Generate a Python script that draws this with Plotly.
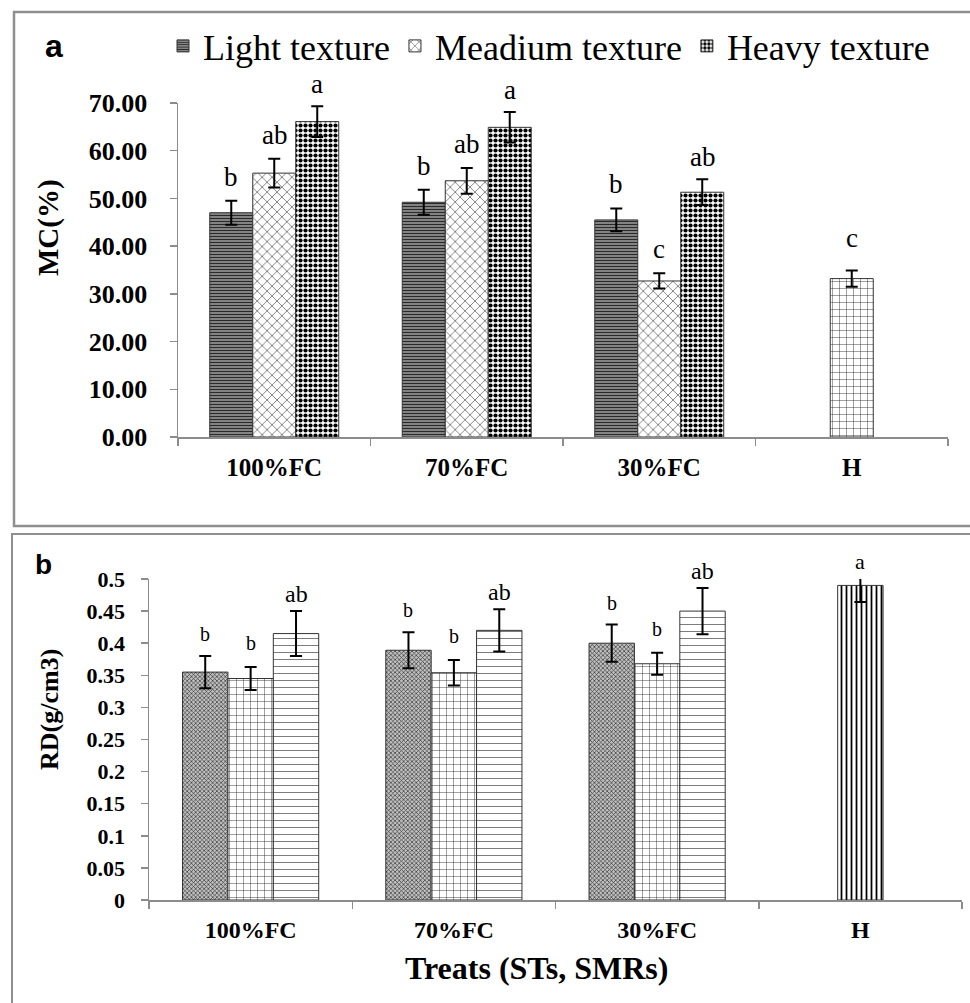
import plotly.graph_objects as go

W, H = 970, 1003

# ---------------- data ----------------
treats = ["100%FC", "70%FC", "30%FC"]
categories = ["100%FC", "70%FC", "30%FC", "H"]

# Panel a : MC (%)
mc_light = [47.0, 49.2, 45.5]
mc_light_err = [2.5, 2.6, 2.4]
mc_medium = [55.3, 53.7, 32.7]
mc_medium_err = [3.0, 2.7, 1.6]
mc_heavy = [66.1, 64.9, 51.3]
mc_heavy_err = [3.2, 3.2, 2.7]
mc_h = [33.2]
mc_h_err = [1.7]
mc_light_letters = ["b", "b", "b"]
mc_medium_letters = ["ab", "ab", "c"]
mc_heavy_letters = ["a", "a", "ab"]
mc_h_letters = ["c"]

# Panel b : RD (g/cm3)
rd_s1 = [0.355, 0.389, 0.400]
rd_s1_err = [0.025, 0.028, 0.029]
rd_s2 = [0.345, 0.354, 0.368]
rd_s2_err = [0.018, 0.020, 0.017]
rd_s3 = [0.415, 0.420, 0.450]
rd_s3_err = [0.035, 0.033, 0.036]
rd_h = [0.49]
rd_h_err = [0.026]
rd_s1_letters = ["b", "b", "b"]
rd_s2_letters = ["b", "b", "b"]
rd_s3_letters = ["ab", "ab", "ab"]
rd_h_letters = ["a"]

series_names = ["Light texture", "Meadium texture", "Heavy texture"]

# ---------------- styling helpers ----------------
SERIF = "Liberation Serif, Times New Roman, serif"
SANS = "Liberation Sans, Arial, sans-serif"
AXC = "#8c8c8c"
BARGAP = 0.33
MC_RANGE = [0, 70]
RD_RANGE = [0, 0.5]


def px_x(p):
    return p / W


def px_y(p):
    return 1 - p / H


def err(arr):
    return dict(type="data", array=arr, color="black", thickness=2, width=6, visible=True)


def pat(shape, fg, bg, size, sol):
    return dict(shape=shape, fgcolor=fg, bgcolor=bg, size=size, solidity=sol, fillmode="replace")


fig = go.Figure()

# Panel a traces
pa_pats = [
    pat("-", "#2a2a2a", "#a0a0a0", 3, 0.5),
    pat("x", "#222222", "white", 7, 0.15),
    pat(".", "black", "white", 5, 0.55),
]
pa_vals = [mc_light, mc_medium, mc_heavy]
pa_errs = [mc_light_err, mc_medium_err, mc_heavy_err]
for i in range(3):
    fig.add_trace(go.Bar(
        x=treats, y=pa_vals[i], name=series_names[i],
        error_y=err(pa_errs[i]), offsetgroup=str(i),
        marker=dict(color="white", pattern=pa_pats[i], line=dict(color="#333", width=1)),
        xaxis="x", yaxis="y", showlegend=True,
    ))
fig.add_trace(go.Bar(
    x=["H"], y=mc_h, name="H", error_y=err(mc_h_err), offsetgroup="1",
    marker=dict(color="white", pattern=pat("+", "#222222", "white", 7, 0.12),
                line=dict(color="#333", width=1)),
    xaxis="x", yaxis="y", showlegend=False,
))

# Panel b traces
pb_pats = [
    pat("x", "#333333", "#c0c0c0", 3, 0.4),
    pat("+", "#222222", "white", 7, 0.12),
    pat("-", "#444444", "white", 7, 0.1),
]
pb_vals = [rd_s1, rd_s2, rd_s3]
pb_errs = [rd_s1_err, rd_s2_err, rd_s3_err]
for i in range(3):
    fig.add_trace(go.Bar(
        x=treats, y=pb_vals[i], name=series_names[i],
        error_y=err(pb_errs[i]), offsetgroup="b" + str(i),
        marker=dict(color="white", pattern=pb_pats[i], line=dict(color="#333", width=1)),
        xaxis="x2", yaxis="y2", showlegend=False,
    ))
fig.add_trace(go.Bar(
    x=["H"], y=rd_h, name="H", error_y=err(rd_h_err), offsetgroup="b1",
    marker=dict(color="white", pattern=pat("|", "black", "white", 5, 0.35),
                line=dict(color="#333", width=1)),
    xaxis="x2", yaxis="y2", showlegend=False,
))

# ---------------- axes ----------------
xa_dom = [px_x(178), px_x(948)]
xb_dom = [px_x(149), px_x(962)]


def xaxis(dom, anchor, fsize, standoff):
    return dict(domain=dom, anchor=anchor, type="category", categoryorder="array",
                categoryarray=categories, tickson="boundaries", ticks="outside", ticklen=7,
                tickcolor=AXC, tickwidth=1.5, showline=True, linecolor=AXC, linewidth=1.5,
                showgrid=False, zeroline=False, ticklabelstandoff=standoff, automargin=False,
                tickfont=dict(family=SERIF, size=fsize, color="black", weight="bold"))


def yaxis(dom, anchor, rng, dtick, fmt, fsize, standoff):
    d = dict(domain=dom, anchor=anchor, range=rng, dtick=dtick, tick0=0, ticks="outside",
             ticklen=7, tickcolor=AXC, tickwidth=1.5, showline=True, linecolor=AXC,
             linewidth=1.5, showgrid=False, zeroline=False, ticklabelstandoff=standoff,
             automargin=False,
             tickfont=dict(family=SERIF, size=fsize, color="black", weight="bold"))
    if fmt:
        d["tickformat"] = fmt
    return d


layout_axes = dict(
    xaxis=xaxis(xa_dom, "y", 25, 7),
    yaxis=yaxis([px_y(437), px_y(103)], "x", MC_RANGE, 10, ".2f", 26, 17),
    xaxis2=xaxis(xb_dom, "y2", 24, 8),
    yaxis2=yaxis([px_y(900), px_y(579)], "x2", RD_RANGE, 0.05, None, 22, 11),
)

# ---------------- annotations ----------------
annotations = []


def letters(vals, errs, labs, cats_, slot, dom, xref, yref, ymax, fsize, yshift):
    cat_px = (dom[1] - dom[0]) * W / len(categories)
    bar_px = cat_px * (1 - BARGAP) / 3
    for c, v, e, t in zip(cats_, vals, errs, labs):
        annotations.append(dict(
            x=c, y=min(v + e, ymax), xref=xref, yref=yref, text=t, showarrow=False,
            xshift=(slot - 1) * bar_px, yshift=yshift, yanchor="middle",
            font=dict(family=SERIF, size=fsize, color="black")))


letters(mc_light, mc_light_err, mc_light_letters, treats, 0, xa_dom, "x", "y", MC_RANGE[1], 27, 24)
letters(mc_medium, mc_medium_err, mc_medium_letters, treats, 1, xa_dom, "x", "y", MC_RANGE[1], 27, 24)
letters(mc_heavy, mc_heavy_err, mc_heavy_letters, treats, 2, xa_dom, "x", "y", MC_RANGE[1], 27, 22)
letters(mc_h, mc_h_err, mc_h_letters, ["H"], 1, xa_dom, "x", "y", MC_RANGE[1], 27, 32)

letters(rd_s1, rd_s1_err, rd_s1_letters, treats, 0, xb_dom, "x2", "y2", RD_RANGE[1], 20, 22)
letters(rd_s2, rd_s2_err, rd_s2_letters, treats, 1, xb_dom, "x2", "y2", RD_RANGE[1], 20, 24)
letters(rd_s3, rd_s3_err, rd_s3_letters, treats, 2, xb_dom, "x2", "y2", RD_RANGE[1], 24, 17)
letters(rd_h, rd_h_err, rd_h_letters, ["H"], 1, xb_dom, "x2", "y2", RD_RANGE[1], 22, 18)

# titles and panel tags
annotations += [
    dict(x=px_x(48), y=px_y(228), xref="paper", yref="paper", text="MC(%)", textangle=-90,
         showarrow=False, xanchor="center", yanchor="middle",
         font=dict(family=SERIF, size=29, color="black", weight="bold")),
    dict(x=px_x(49), y=px_y(710), xref="paper", yref="paper", text="RD(g/cm3)", textangle=-90,
         showarrow=False, xanchor="center", yanchor="middle",
         font=dict(family=SERIF, size=26, color="black", weight="bold")),
    dict(x=px_x(536), y=px_y(968), xref="paper", yref="paper", text="Treats (STs, SMRs)",
         showarrow=False, xanchor="center", yanchor="middle",
         font=dict(family=SERIF, size=32, color="black", weight="bold")),
    dict(x=px_x(54), y=px_y(46), xref="paper", yref="paper", text="a", showarrow=False,
         xanchor="center", yanchor="middle",
         font=dict(family=SANS, size=32, color="black", weight="bold")),
    dict(x=px_x(43), y=px_y(564), xref="paper", yref="paper", text="b", showarrow=False,
         xanchor="center", yanchor="middle",
         font=dict(family=SANS, size=28, color="black", weight="bold")),
]

# panel frames
shapes = [
    dict(type="rect", xref="paper", yref="paper", x0=px_x(14), x1=px_x(985), y0=px_y(526),
         y1=px_y(12), line=dict(color="#8f8f8f", width=2.5), fillcolor="rgba(0,0,0,0)"),
    dict(type="rect", xref="paper", yref="paper", x0=px_x(12), x1=px_x(985), y0=px_y(1020),
         y1=px_y(534), line=dict(color="#8f8f8f", width=2), fillcolor="rgba(0,0,0,0)"),
]

fig.update_layout(
    width=W, height=H, autosize=False,
    margin=dict(l=0, r=0, t=0, b=0, pad=0, autoexpand=False),
    paper_bgcolor="white", plot_bgcolor="white",
    barmode="group", bargap=BARGAP, bargroupgap=0,
    showlegend=True,
    legend=dict(orientation="h", x=px_x(163), y=px_y(46), xanchor="left", yanchor="middle",
                font=dict(family=SERIF, size=36, color="black"), bgcolor="rgba(0,0,0,0)",
                itemclick=False, itemdoubleclick=False, traceorder="normal"),
    annotations=annotations, shapes=shapes,
    hovermode=False,
    **layout_axes,
)

fig.write_html("out.html", config={"displayModeBar": False, "staticPlot": True},
               post_script="document.body.style.margin='0';document.body.style.overflow='hidden';")
